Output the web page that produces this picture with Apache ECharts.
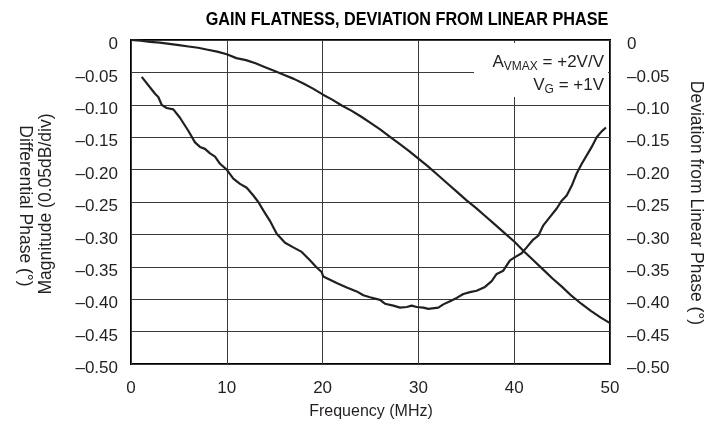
<!DOCTYPE html>
<html>
<head>
<meta charset="utf-8">
<script src="https://cdn.jsdelivr.net/npm/echarts@6/dist/echarts.min.js"></script>
<style>
html,body{margin:0;padding:0;background:#fff;}
#c{width:720px;height:428px;}
</style>
</head>
<body>
<div id="c"></div>
<script>
// ---- data ----
var titleText = 'GAIN FLATNESS, DEVIATION FROM LINEAR PHASE';
var xName = 'Frequency (MHz)';
var yNameMag = 'Magnitude (0.05dB/div)';
var yNamePhase = 'Differential Phase (°)';
var yNameRight = 'Deviation from Linear Phase (°)';
var xTicks = [0, 10, 20, 30, 40, 50];
var yTicks = [0, -0.05, -0.10, -0.15, -0.20, -0.25, -0.30, -0.35, -0.40, -0.45, -0.50];

var gainFreq = [0,1,2,3,4,5,6,7,8,9,10,11,12,13,14,15,16,17,18,19,20,21,22,23,24,25,26,27,28,29,30,31,32,33,34,35,36,37,38,39,40,41,42,43,44,45,46,47,48,49,50];
var gainVal = [0,-0.001,-0.003,-0.004,-0.006,-0.008,-0.010,-0.012,-0.015,-0.018,-0.022,-0.028,-0.031,-0.036,-0.042,-0.048,-0.054,-0.060,-0.067,-0.075,-0.084,-0.092,-0.101,-0.109,-0.118,-0.128,-0.138,-0.149,-0.160,-0.171,-0.183,-0.195,-0.208,-0.221,-0.234,-0.247,-0.259,-0.272,-0.285,-0.298,-0.311,-0.326,-0.340,-0.354,-0.368,-0.381,-0.395,-0.407,-0.418,-0.428,-0.437];

var phaseFreq = [1.12,2.51,2.85,3.2,3.72,4.42,5.11,5.98,6.68,7.2,7.72,8.25,8.77,9.29,9.99,10.68,11.38,12.08,12.77,13.29,13.81,14.5,15.21,16.08,16.94,17.82,18.68,19.38,19.9,20.07,20.77,21.47,22.52,23.56,24.25,24.95,25.99,26.51,27.38,28.08,28.78,29.3,29.82,30.51,31.03,32.08,32.6,33.3,34.0,34.69,35.39,36.08,36.95,37.65,38.17,38.86,39.56,40.08,40.78,41.3,41.99,42.52,43.04,43.74,44.44,44.96,45.48,46.0,46.52,47.05,47.57,48.09,48.61,49.13,49.58];
var phaseVal = [-0.057,-0.083,-0.088,-0.100,-0.105,-0.107,-0.120,-0.140,-0.158,-0.165,-0.168,-0.175,-0.180,-0.191,-0.200,-0.214,-0.222,-0.228,-0.240,-0.250,-0.263,-0.279,-0.299,-0.313,-0.320,-0.327,-0.340,-0.351,-0.358,-0.365,-0.370,-0.375,-0.382,-0.388,-0.394,-0.397,-0.401,-0.407,-0.410,-0.413,-0.412,-0.410,-0.412,-0.413,-0.415,-0.413,-0.408,-0.403,-0.398,-0.392,-0.389,-0.387,-0.381,-0.372,-0.361,-0.356,-0.340,-0.335,-0.329,-0.320,-0.308,-0.302,-0.286,-0.273,-0.260,-0.248,-0.240,-0.225,-0.206,-0.191,-0.178,-0.165,-0.150,-0.141,-0.135];

// ---- build ----
function pairs(xs, ys){ return xs.map(function(x,i){ return [x, ys[i]]; }); }
function fmtY(v){
  if (Math.abs(v) < 1e-9) return '0';
  return '\u2013' + Math.abs(v).toFixed(2);
}
var FONT = '"Liberation Sans", Arial, Helvetica, sans-serif';
var INK = '#231f20';
var richSub = {
  a:{fontSize:17, fontFamily:FONT, lineHeight:18, verticalAlign:'top', color:INK},
  s:{fontSize:12, fontFamily:FONT, lineHeight:12, verticalAlign:'top', padding:[7,0,0,0], color:INK}
};

var chart = echarts.init(document.getElementById('c'), null, {renderer:'canvas'});
var yAxisCommon = {
  type:'value', min: yTicks[yTicks.length-1], max: yTicks[0], interval: 0.05,
  axisLine:{show:false}, axisTick:{show:false},
  splitLine:{show:false}
};
chart.setOption({
  animation:false,
  backgroundColor:'#fff',
  grid:{left:131, right:110, top:40, height:324, show:true, borderColor:'#000', borderWidth:2, backgroundColor:'transparent'},
  xAxis:{
    type:'value', min:xTicks[0], max:xTicks[xTicks.length-1], interval:10,
    axisLine:{show:false}, axisTick:{show:false},
    axisLabel:{margin:16, fontSize:17, color:INK, fontFamily:FONT},
    splitLine:{show:true, lineStyle:{color:'#3a3a3a', width:1}}
  },
  yAxis:[
    Object.assign({}, yAxisCommon, {
      position:'left',
      axisLabel:{margin:13, fontSize:17, color:INK, fontFamily:FONT, formatter:fmtY, verticalAlign:'top', lineHeight:9},
      splitLine:{show:true, lineStyle:{color:'#3a3a3a', width:1}}
    }),
    Object.assign({}, yAxisCommon, {
      position:'right',
      axisLabel:{margin:17, fontSize:17, color:INK, fontFamily:FONT, formatter:fmtY, verticalAlign:'top', lineHeight:9}
    })
  ],
  series:[
    {type:'line', name:'gain', data:pairs(gainFreq, gainVal), showSymbol:false, symbol:'none',
      lineStyle:{color:INK, width:2.2}, z:5},
    {type:'line', name:'phase', data:pairs(phaseFreq, phaseVal), showSymbol:false, symbol:'none',
      lineStyle:{color:INK, width:2.2}, z:5}
  ],
  graphic:[
    {type:'text', z:100, x:407, y:20, scaleX:0.9, originX:0, style:{text:titleText, align:'center', verticalAlign:'middle', font:'bold 18px ' + FONT, fill:'#000'}},
    {type:'rect', z:50, shape:{x:474, y:43, width:134, height:54}, style:{fill:'#fff'}},
    {type:'text', z:60, x:604, y:63, style:{
      text:'{a|A}{s|VMAX}{a| = +2V/V}', align:'right', verticalAlign:'middle', fill:INK, rich:richSub
    }},
    {type:'text', z:60, x:604, y:86, style:{
      text:'{a|V}{s|G}{a| = +1V}', align:'right', verticalAlign:'middle', fill:INK, rich:richSub
    }},
    {type:'text', z:60, x:46, y:204, rotation:Math.PI/2, style:{text:yNameMag, align:'center', verticalAlign:'middle', font:'17.5px ' + FONT, fill:INK}},
    {type:'text', z:60, x:25, y:206, rotation:-Math.PI/2, style:{text:yNamePhase, align:'center', verticalAlign:'middle', font:'17.5px ' + FONT, fill:INK}},
    {type:'text', z:60, x:696, y:203, rotation:-Math.PI/2, style:{text:yNameRight, align:'center', verticalAlign:'middle', font:'17.5px ' + FONT, fill:INK}},
    {type:'text', z:60, x:371, y:412, style:{text:xName, align:'center', verticalAlign:'middle', font:'16px ' + FONT, fill:INK}}
  ]
});
</script>
</body>
</html>
